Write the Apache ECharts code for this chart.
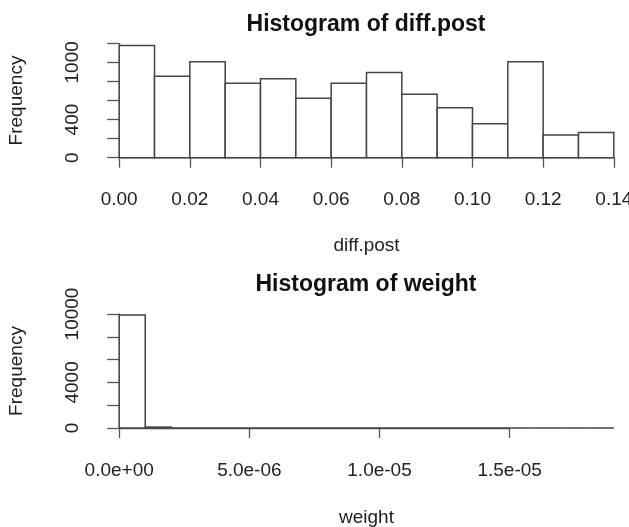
<!DOCTYPE html>
<html><head><meta charset="utf-8">
<script src="https://cdn.jsdelivr.net/npm/echarts@6/dist/echarts.min.js"></script>
<style>html,body{margin:0;padding:0;background:#fff}#c{width:629px;height:527px}</style>
</head><body><div id="c"></div>
<script>
// ---- Histogram of diff.post ----
const diffBreaks = [0, 0.01, 0.02, 0.03, 0.04, 0.05, 0.06, 0.07, 0.08, 0.09, 0.10, 0.11, 0.12, 0.13, 0.14];
const diffCounts = [1177, 855, 1007, 782, 828, 623, 782, 893, 665, 523, 357, 1007, 239, 264];
const diffXTicks = [0, 0.02, 0.04, 0.06, 0.08, 0.10, 0.12, 0.14];
const diffXTickLabels = ['0.00', '0.02', '0.04', '0.06', '0.08', '0.10', '0.12', '0.14'];
const diffYTicks = [0, 200, 400, 600, 800, 1000, 1200];
const diffYTickLabels = [0, 400, 1000];

// ---- Histogram of weight ----
const weightBreaks = [0, 1e-6, 2e-6, 3e-6, 4e-6, 5e-6, 6e-6, 7e-6, 8e-6, 9e-6, 1e-5,
  1.1e-5, 1.2e-5, 1.3e-5, 1.4e-5, 1.5e-5, 1.6e-5, 1.7e-5, 1.8e-5, 1.9e-5];
const weightCounts = [9920, 80, 0, 0, 0, 0, 0, 0, 0, 0, 0, 0, 0, 0, 0, 0, 0, 0, 0];
const weightXTicks = [0, 5e-6, 1e-5, 1.5e-5];
const weightXTickLabels = ['0.0e+00', '5.0e-06', '1.0e-05', '1.5e-05'];
const weightYTicks = [0, 2000, 4000, 6000, 8000, 10000];
const weightYTickLabels = [0, 4000, 10000];

const FONT = "'Liberation Sans', Arial, sans-serif";
const TXT = '#222';
const AX = '#555';
const plotL = 119.2, plotW = 494.6;
const g1Top = 43.3, g1H = 114.4;
const g2Top = 314, g2H = 114;

function bins(breaks, counts) {
  return counts.map((c, i) => [breaks[i], breaks[i + 1], c]);
}
function labelFor(ticks, labels) {
  return function (v) {
    let best = 0, d = Infinity;
    ticks.forEach((t, i) => { const dd = Math.abs(t - v); if (dd < d) { d = dd; best = i; } });
    return labels[best];
  };
}
function plainNum(v) { return String(Math.round(v)); }
function renderBar(params, api) {
  const p0 = api.coord([api.value(0), 0]);
  const p1 = api.coord([api.value(1), api.value(2)]);
  return {
    type: 'rect',
    shape: { x: p0[0], y: p1[1], width: p1[0] - p0[0], height: p0[1] - p1[1] },
    style: { fill: '#fff', stroke: '#444', lineWidth: 1.5 }
  };
}
const weightAxisMax = weightXTicks[weightXTicks.length - 1];
const weightDataMax = weightBreaks[weightBreaks.length - 1];

const chart = echarts.init(document.getElementById('c'), null, { renderer: 'canvas' });
chart.setOption({
  animation: false,
  backgroundColor: '#fff',
  title: [
    { text: 'Histogram of diff.post', left: 366, top: 13, textAlign: 'center', padding: 0,
      textStyle: { fontFamily: FONT, fontSize: 23, fontWeight: 'bold', color: '#111' } },
    { text: 'Histogram of weight', left: 366, top: 273, textAlign: 'center', padding: 0,
      textStyle: { fontFamily: FONT, fontSize: 23, fontWeight: 'bold', color: '#111' } }
  ],
  grid: [
    { left: plotL, top: g1Top, width: plotW, height: g1H, outerBoundsMode: 'none' },
    { left: plotL, top: g2Top, width: plotW, height: g2H, outerBoundsMode: 'none' },
    { left: plotL, top: g2Top, width: plotW * weightAxisMax / weightDataMax, height: g2H, outerBoundsMode: 'none' }
  ],
  xAxis: [
    { gridIndex: 0, type: 'value', min: diffBreaks[0], max: diffBreaks[diffBreaks.length - 1],
      offset: 5.6, splitLine: { show: false },
      axisLine: { show: true, lineStyle: { color: AX, width: 1.3 } },
      axisTick: { show: true, length: 10, customValues: diffXTicks, lineStyle: { color: AX, width: 1.3 } },
      axisLabel: { customValues: diffXTicks, formatter: labelFor(diffXTicks, diffXTickLabels), margin: 27,
        fontFamily: FONT, fontSize: 19, color: TXT, showMinLabel: true, showMaxLabel: true },
      name: 'diff.post', nameLocation: 'middle', nameGap: 73,
      nameTextStyle: { fontFamily: FONT, fontSize: 19, color: TXT } },
    { gridIndex: 1, type: 'value', min: weightBreaks[0], max: weightDataMax, show: true,
      splitLine: { show: false }, axisLine: { show: false }, axisTick: { show: false }, axisLabel: { show: false },
      name: 'weight', nameLocation: 'middle', nameGap: 80,
      nameTextStyle: { fontFamily: FONT, fontSize: 19, color: TXT } },
    { gridIndex: 2, type: 'value', min: 0, max: weightAxisMax, offset: 6,
      splitLine: { show: false },
      axisLine: { show: true, lineStyle: { color: AX, width: 1.3 } },
      axisTick: { show: true, length: 10, customValues: weightXTicks, lineStyle: { color: AX, width: 1.3 } },
      axisLabel: { customValues: weightXTicks, formatter: labelFor(weightXTicks, weightXTickLabels), margin: 27,
        fontFamily: FONT, fontSize: 19, color: TXT, showMinLabel: true, showMaxLabel: true } }
  ],
  yAxis: [
    { gridIndex: 0, type: 'value', min: 0, max: diffYTicks[diffYTicks.length - 1], offset: 20,
      splitLine: { show: false },
      axisLine: { show: true, lineStyle: { color: AX, width: 1.3 } },
      axisTick: { show: true, length: 12, customValues: diffYTicks, lineStyle: { color: AX, width: 1.3 } },
      axisLabel: { customValues: diffYTickLabels, formatter: plainNum, rotate: 90, margin: 17,
        fontFamily: FONT, fontSize: 19, color: TXT },
      name: 'Frequency', nameLocation: 'middle', nameGap: 73,
      nameTextStyle: { fontFamily: FONT, fontSize: 19, color: TXT } },
    { gridIndex: 1, type: 'value', min: 0, max: weightYTicks[weightYTicks.length - 1], offset: 20,
      splitLine: { show: false },
      axisLine: { show: true, lineStyle: { color: AX, width: 1.3 } },
      axisTick: { show: true, length: 12, customValues: weightYTicks, lineStyle: { color: AX, width: 1.3 } },
      axisLabel: { customValues: weightYTickLabels, formatter: plainNum, rotate: 90, margin: 17,
        fontFamily: FONT, fontSize: 19, color: TXT },
      name: 'Frequency', nameLocation: 'middle', nameGap: 73,
      nameTextStyle: { fontFamily: FONT, fontSize: 19, color: TXT } },
    { gridIndex: 2, type: 'value', min: 0, max: weightYTicks[weightYTicks.length - 1], show: false }
  ],
  series: [
    { type: 'custom', xAxisIndex: 0, yAxisIndex: 0, renderItem: renderBar,
      encode: { x: [0, 1], y: 2 }, data: bins(diffBreaks, diffCounts) },
    { type: 'custom', xAxisIndex: 1, yAxisIndex: 1, renderItem: renderBar,
      encode: { x: [0, 1], y: 2 }, data: bins(weightBreaks, weightCounts) }
  ]
});
</script>
</body></html>
